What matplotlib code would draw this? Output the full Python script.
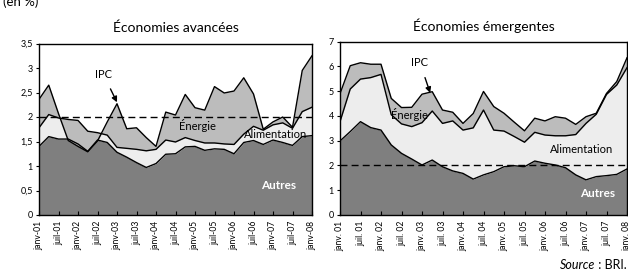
import numpy as np
import matplotlib
matplotlib.use('Agg')
import matplotlib.pyplot as plt

plt.rcParams['font.family'] = ['Lato', 'DejaVu Sans']

# trimestres de janv-01 à janv-08
n_q = 29
x = np.arange(n_q)

# Économies avancées (cumuls en %)
adv_autres = [1.40, 1.60, 1.55, 1.55, 1.45, 1.30, 1.53, 1.48, 1.28, 1.18, 1.07, 0.97, 1.05,
              1.24, 1.25, 1.39, 1.40, 1.32, 1.35, 1.34, 1.25, 1.48, 1.52, 1.44, 1.53, 1.48,
              1.42, 1.60, 1.62]
adv_alim = [1.78, 2.05, 1.98, 1.95, 1.93, 1.71, 1.68, 1.63, 1.38, 1.36, 1.34, 1.31, 1.34,
            1.53, 1.49, 1.58, 1.52, 1.47, 1.47, 1.45, 1.44, 1.65, 1.81, 1.73, 1.84, 1.88,
            1.77, 2.11, 2.20]
adv_ipc = [2.36, 2.65, 2.07, 1.52, 1.40, 1.29, 1.51, 1.90, 2.27, 1.76, 1.78, 1.58, 1.40,
           2.10, 2.04, 2.46, 2.19, 2.14, 2.62, 2.49, 2.53, 2.80, 2.47, 1.75, 1.90, 2.00,
           1.79, 2.95, 3.25]

# Économies émergentes (cumuls en %)
em_autres = [2.99, 3.37, 3.77, 3.53, 3.43, 2.83, 2.49, 2.26, 2.02, 2.22, 1.95, 1.78, 1.68,
             1.45, 1.62, 1.75, 1.95, 1.99, 1.95, 2.18, 2.09, 2.02, 1.91, 1.62, 1.42, 1.55,
             1.59, 1.64, 1.86]
em_alim = [3.77, 5.09, 5.49, 5.55, 5.68, 4.05, 3.68, 3.57, 3.73, 4.20, 3.70, 3.80, 3.43,
           3.52, 4.24, 3.43, 3.39, 3.17, 2.94, 3.34, 3.23, 3.20, 3.20, 3.25, 3.70, 4.07,
           4.87, 5.25, 5.95]
em_ipc = [4.90, 6.03, 6.15, 6.09, 6.09, 4.71, 4.34, 4.35, 4.88, 4.98, 4.24, 4.15, 3.70,
          4.10, 4.99, 4.38, 4.11, 3.75, 3.40, 3.91, 3.80, 3.97, 3.91, 3.66, 3.97, 4.11,
          4.91, 5.39, 6.35]

years = ['01', '02', '03', '04', '05', '06', '07', '08']
labels_adv = []
labels_em = []
for y in years:
    labels_adv += ['janv-' + y, 'juil-' + y]
    labels_em += ['janv. ' + y, 'juil. ' + y]
labels_adv = labels_adv[:15]
labels_em = labels_em[:15]

c_dark = '#7f7f7f'
c_light = '#ededed'
c_mid = '#bcbcbc'

fig = plt.figure(figsize=(6.28, 2.76), dpi=100)
ax1 = fig.add_axes([39 / 628, 61 / 276, 273 / 628, 171.5 / 276])
ax2 = fig.add_axes([340 / 628, 61 / 276, 287 / 628, 173.3 / 276])


def draw(ax, autres, alim, ipc, ymax, ytks, ylabs, xlabs, title):
    ax.fill_between(x, 0, autres, color=c_dark, lw=0)
    ax.fill_between(x, autres, alim, color=c_light, lw=0)
    ax.fill_between(x, alim, ipc, color=c_mid, lw=0)
    for s in (autres, alim, ipc):
        ax.plot(x, s, color='black', lw=1.0)
    ax.axhline(2, color='black', lw=1.0, ls=(0, (5, 3)))
    ax.set_xlim(0, n_q - 1)
    ax.set_ylim(0, ymax)
    ax.set_yticks(ytks)
    ax.set_yticklabels(ylabs, fontsize=6.5)
    ax.set_xticks(np.arange(0, n_q, 2))
    ax.set_xticklabels(xlabs, rotation=90, fontsize=6.2)
    ax.tick_params(axis='x', direction='in', length=3, width=0.8, pad=4)
    ax.tick_params(axis='y', direction='out', length=2.5, width=0.8, pad=2)
    for sp in ax.spines.values():
        sp.set_linewidth(1.0)
    ax.set_title(title, fontsize=10, pad=8)


draw(ax1, adv_autres, adv_alim, adv_ipc, 3.5,
     [0, 0.5, 1, 1.5, 2, 2.5, 3, 3.5],
     ['0', '0,5', '1', '1,5', '2', '2,5', '3', '3,5'],
     labels_adv, 'Économies avancées')
draw(ax2, em_autres, em_alim, em_ipc, 7,
     range(8), [str(v) for v in range(8)],
     labels_em, 'Économies émergentes')

# annotations
ax1.annotate('IPC', xy=(8, adv_ipc[8] + 0.03), xytext=(6.6, 2.87), fontsize=8,
             ha='center', va='center',
             arrowprops=dict(arrowstyle='-|>', color='black', lw=1.0, mutation_scale=8,
                             shrinkA=5, shrinkB=0))
ax1.text(16.2, 1.83, 'Énergie', fontsize=8, ha='center', va='center')
ax1.text(24.3, 1.65, 'Alimentation', fontsize=8, ha='center', va='center')
ax1.text(24.6, 0.6, 'Autres', fontsize=8.5, ha='center', va='center',
         color='white', fontweight='bold')

ax2.annotate('IPC', xy=(8.8, em_ipc[9] - 0.05), xytext=(7.8, 6.15), fontsize=8,
             ha='center', va='center',
             arrowprops=dict(arrowstyle='-|>', color='black', lw=1.0, mutation_scale=8,
                             shrinkA=5, shrinkB=0))
ax2.text(6.8, 4.05, 'Énergie', fontsize=8, ha='center', va='center')
ax2.text(23.6, 2.65, 'Alimentation', fontsize=8, ha='center', va='center')
ax2.text(25.1, 0.85, 'Autres', fontsize=8.5, ha='center', va='center',
         color='white', fontweight='bold')

fig.text(0.005, 0.995, '(en %)', fontsize=9.5, ha='left', va='center')

# "Source : BRI." with italic first word
t_end = fig.text(0.998, 0.04, '\u00a0: BRI.', fontsize=9, ha='right', va='center')
fig.canvas.draw()
bb = t_end.get_window_extent(renderer=fig.canvas.get_renderer())
fig.text(bb.x0 / fig.bbox.width, 0.04, 'Source', fontsize=9, ha='right', va='center',
         style='italic')

fig.savefig('out.png', dpi=100)
